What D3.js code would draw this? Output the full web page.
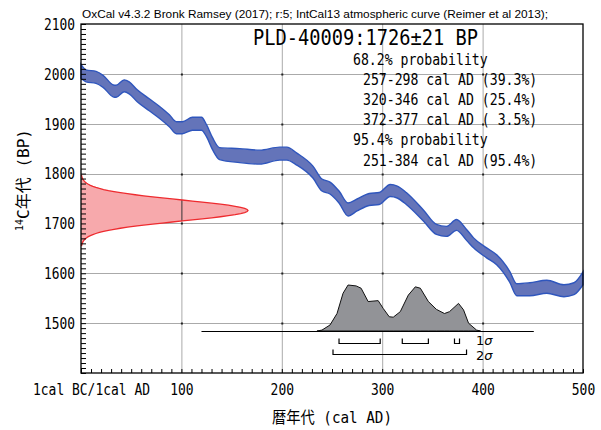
<!DOCTYPE html>
<html>
<head>
<meta charset="utf-8">
<script src="https://cdn.jsdelivr.net/npm/d3@7/dist/d3.min.js"></script>
<style>
  body { margin: 0; background: #fff; }
  svg { display: block; }
  text { white-space: pre; }
</style>
</head>
<body>
<svg id="chart" width="601" height="430"></svg>
<script>
// IntCal13 calibration curve (cal AD year, 14C age BP, 1-sigma error)
const calYears = [0, 5, 15, 22, 32, 35, 43, 48, 56, 68, 78, 88, 95, 101, 111, 120, 125, 131, 138, 158, 178, 198, 205, 215, 231, 240, 248, 257, 266, 275, 287, 297, 308, 315, 324, 341, 354, 364, 374, 384, 391, 404, 414, 427, 434, 447, 464, 481, 491, 500];
const curveBP  = [2005, 1996, 1993, 1985, 1966, 1965, 1976, 1972, 1956, 1938, 1923, 1906, 1892, 1892, 1900, 1900, 1886, 1860, 1840, 1836, 1833, 1840, 1840, 1829, 1803, 1777, 1771, 1753, 1728, 1737, 1748, 1750, 1766, 1763, 1750, 1716, 1688, 1684, 1697, 1677, 1661, 1641, 1627, 1593, 1567, 1568, 1573, 1565, 1569, 1590];
const curveErr = [14, 12, 12, 12, 12, 12, 12, 12, 12, 12, 12, 12, 12, 12, 13, 13, 12, 12, 12, 14, 14, 13, 13, 12, 12, 12, 12, 12, 13, 12, 12, 12, 12, 12, 12, 11, 10, 10, 11, 11, 10, 10, 10, 11, 12, 13, 13, 12, 12, 13];

// Measured radiocarbon date
const sampleName = "PLD-40009";
const measuredBP = 1726;
const measuredErr = 21;

// Calibrated probability distribution (cal AD, relative probability)
const probYears   = [235, 240, 248, 255, 261, 266, 274, 279, 286, 296, 301, 307, 311, 318, 326, 333, 338, 346, 354, 362, 367, 376, 381, 386, 394, 398];
const probDensity = [0, 0.02, 0.13, 0.38, 0.82, 1.0, 0.98, 0.93, 0.64, 0.66, 0.49, 0.31, 0.30, 0.42, 0.78, 0.96, 0.93, 0.64, 0.47, 0.38, 0.42, 0.60, 0.46, 0.17, 0.02, 0];
const probSpan = [120, 451];

// Calibrated ranges
const range68 = [[257, 298], [320, 346], [372, 377]];
const pct68 = [39.3, 25.4, 3.5];
const range95 = [[251, 384]];
const pct95 = [95.4];

// Axes
const xTicks = [0, 100, 200, 300, 400, 500];
const xTickLabels = ["1cal BC/1cal AD", "100", "200", "300", "400", "500"];
const yTicks = [2100, 2000, 1900, 1800, 1700, 1600, 1500];
const headerText = "OxCal v4.3.2 Bronk Ramsey (2017); r:5; IntCal13 atmospheric curve (Reimer et al 2013);";
const xTitle = "暦年代 (cal AD)";

const svg = d3.select("#chart");
const L = 81, R = 583, T = 24, B = 373;
const MONO = "'DejaVu Sans Mono', 'Noto Sans CJK JP', monospace";

const x = d3.scaleLinear().domain([0, 500]).range([L, R]);
const y = d3.scaleLinear().domain([1400, 2100]).range([B, T]);

function fit(sel, len) {
  return sel.attr("textLength", len).attr("lengthAdjust", "spacingAndGlyphs");
}

// Grid
const grid = svg.append("g").attr("stroke", "#aaaaaa").attr("stroke-width", 1);
xTicks.filter(v => v > 0 && v < 500).forEach(v => {
  grid.append("line").attr("x1", x(v) + 0.5).attr("x2", x(v) + 0.5).attr("y1", T).attr("y2", B);
});
yTicks.filter(v => v < 2100).forEach(v => {
  grid.append("line").attr("y1", Math.round(y(v)) + 0.5).attr("y2", Math.round(y(v)) + 0.5).attr("x1", L).attr("x2", R);
});
// small marks at grid crossings
const marks = svg.append("g").attr("fill", "#222");
xTicks.filter(v => v > 0 && v < 500).forEach(xv => {
  yTicks.filter(v => v < 2100).forEach(yv => {
    marks.append("rect").attr("x", x(xv) - 0.5).attr("y", Math.round(y(yv)) - 0.5).attr("width", 2).attr("height", 2);
  });
});

// Measured date on the radiocarbon axis (normal distribution from the stated value)
const zs = d3.range(-3.4, 3.401, 0.1);
const redPts = zs.map(z => ({ bp: measuredBP + z * measuredErr, p: Math.exp(-z * z / 2) }));
const rx = d3.scaleLinear().domain([0, 1]).range([L, 248]);
const redArea = d3.area()
  .y(d => y(d.bp))
  .x0(L)
  .x1(d => rx(d.p))
  .curve(d3.curveLinear);
const redLine = d3.line().y(d => y(d.bp)).x(d => rx(d.p));
svg.append("defs").append("clipPath").attr("id", "redclip")
  .append("path").attr("d", redArea(redPts));
svg.append("path").attr("d", redArea(redPts)).attr("fill", "#f7a9ac");
svg.append("line").attr("clip-path", "url(#redclip)")
  .attr("x1", x(100) + 0.5).attr("x2", x(100) + 0.5).attr("y1", T).attr("y2", B)
  .attr("stroke", "#333").attr("stroke-width", 1);
svg.append("path").attr("d", redLine(redPts)).attr("fill", "none").attr("stroke", "#ee2b2f").attr("stroke-width", 1.3);

// Calibration curve band
const curve = calYears.map((c, i) => ({ c, bp: curveBP[i], e: curveErr[i] }));
const band = d3.area()
  .x(d => x(d.c))
  .y0(d => y(d.bp - d.e))
  .y1(d => y(d.bp + d.e))
  .curve(d3.curveMonotoneX);
svg.append("path").attr("d", band(curve))
  .attr("fill", "#6474b9").attr("stroke", "#2f56bd").attr("stroke-width", 1.4);

// Calibrated distribution
const baseY = B - 42;
const ph = d3.scaleLinear().domain([0, 1]).range([0, 46]);
const prob = probYears.map((c, i) => ({ c, p: probDensity[i] }));
svg.append("path")
  .attr("d", d3.area().x(d => x(d.c)).y0(baseY).y1(d => baseY - ph(d.p)).curve(d3.curveLinear)(prob))
  .attr("fill", "#929397").attr("stroke", "#111").attr("stroke-width", 1);
svg.append("line").attr("x1", x(probSpan[0])).attr("x2", x(probSpan[1]))
  .attr("y1", baseY + 0.5).attr("y2", baseY + 0.5).attr("stroke", "#000").attr("stroke-width", 1.2);

// Range brackets
function bracket(r, yb) {
  const p = d3.path();
  p.moveTo(x(r[0]), yb - 5);
  p.lineTo(x(r[0]), yb);
  p.lineTo(x(r[1]), yb);
  p.lineTo(x(r[1]), yb - 5);
  svg.append("path").attr("d", p.toString()).attr("fill", "none").attr("stroke", "#000").attr("stroke-width", 1.2);
}
range68.forEach(r => bracket(r, baseY + 12.5));
range95.forEach(r => bracket(r, baseY + 23.5));
function sigmaLabel(n, yb) {
  const t = svg.append("text").attr("x", 476).attr("y", yb)
    .attr("font-family", "'DejaVu Sans', sans-serif").attr("font-size", 13).attr("fill", "#000");
  t.append("tspan").text(n);
  t.append("tspan").attr("font-style", "italic").text("σ");
}
sigmaLabel("1", baseY + 13.5);
sigmaLabel("2", baseY + 29);

// Frame
svg.append("rect").attr("x", L).attr("y", T).attr("width", R - L).attr("height", B - T)
  .attr("fill", "none").attr("stroke", "#000").attr("stroke-width", 1.3);

// Minor ticks
const xMinor = d3.axisBottom(x).tickValues(d3.range(0, 501, 10)).tickSize(-4).tickFormat("").tickSizeOuter(0);
svg.append("g").attr("transform", `translate(0,${B})`).call(xMinor)
  .call(g => g.select(".domain").remove())
  .selectAll("line").attr("stroke", "#000");
const yMinor = d3.axisLeft(y).tickValues(d3.range(1400, 2101, 10)).tickSize(-5).tickFormat("").tickSizeOuter(0);
svg.append("g").attr("transform", `translate(${L},0)`).call(yMinor)
  .call(g => g.select(".domain").remove())
  .selectAll("line").attr("stroke", "#000");

// Tick labels
const xLab = d3.axisBottom(x).tickValues(xTicks).tickSize(0).tickPadding(0)
  .tickFormat((d, i) => xTickLabels[i]);
const gx = svg.append("g").attr("transform", `translate(0,${B})`).call(xLab);
gx.select(".domain").remove();
gx.selectAll("text")
  .attr("font-family", MONO).attr("font-size", 15).attr("fill", "#000")
  .attr("dy", 0).attr("y", 22)
  .each(function (d, i) {
    const s = d3.select(this);
    const n = xTickLabels[i].length;
    fit(s, n * 7.8);
    if (i === 0) s.attr("dx", 10);
  });

const yLab = d3.axisLeft(y).tickValues(yTicks).tickSize(0).tickPadding(6).tickFormat(d3.format("d"));
const gy = svg.append("g").attr("transform", `translate(${L},0)`).call(yLab);
gy.select(".domain").remove();
gy.selectAll("text")
  .attr("font-family", MONO).attr("font-size", 15).attr("fill", "#000")
  .attr("dy", "0.36em")
  .each(function () { fit(d3.select(this), 31); });

// Axis titles
fit(svg.append("text").attr("x", (L + R) / 2).attr("y", 423).attr("text-anchor", "middle")
  .attr("font-family", MONO).attr("font-size", 16).attr("fill", "#000").text(xTitle), 120);

const yt = svg.append("text").attr("transform", "translate(29,180) rotate(-90)")
  .attr("text-anchor", "middle").attr("font-family", MONO).attr("font-size", 16).attr("fill", "#000");
yt.append("tspan").attr("font-size", 10).attr("dy", -6).text("14");
yt.append("tspan").attr("dy", 6).text("C年代 (BP)");

// Header
fit(svg.append("text").attr("x", 82).attr("y", 18)
  .attr("font-family", "'Liberation Sans', Arial, sans-serif").attr("font-size", 11.5).attr("fill", "#000")
  .text(headerText), 466);

// Result text
fit(svg.append("text").attr("x", 253).attr("y", 45)
  .attr("font-family", MONO).attr("font-size", 21).attr("fill", "#000")
  .text(`${sampleName}:${measuredBP}±${measuredErr} BP`), 225);

const pad = v => (v < 10 ? " " : "") + v.toFixed(1);
const lines = [];
lines.push({ t: "68.2% probability", indent: 0 });
range68.forEach((r, i) => lines.push({ t: `${r[0]}-${r[1]} cal AD (${pad(pct68[i])}%)`, indent: 1 }));
lines.push({ t: "95.4% probability", indent: 0 });
range95.forEach((r, i) => lines.push({ t: `${r[0]}-${r[1]} cal AD (${pad(pct95[i])}%)`, indent: 1 }));
lines.forEach((l, i) => {
  fit(svg.append("text").attr("x", l.indent ? 363 : 353).attr("y", 64.5 + i * 20.2)
    .attr("font-family", MONO).attr("font-size", 15.5).attr("fill", "#000")
    .text(l.t), l.t.length * 7.92);
});
</script>
</body>
</html>
